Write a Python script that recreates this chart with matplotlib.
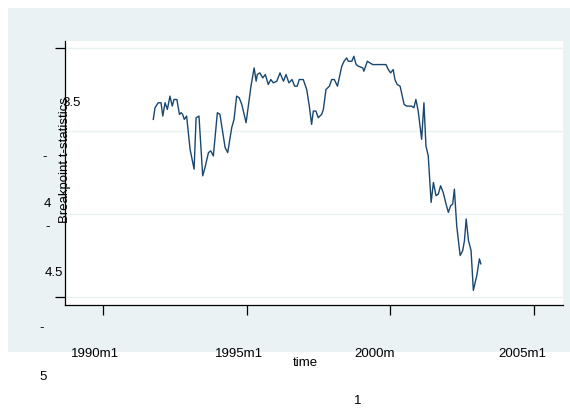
import matplotlib.pyplot as plt
from matplotlib.patches import Rectangle

plt.rcParams['font.family'] = ['Liberation Sans', 'DejaVu Sans']

# breakpoint t-statistics (time in decimal years)
time = [1991.75, 1991.81, 1991.92, 1992.02, 1992.08, 1992.16, 1992.24, 1992.33,
        1992.41, 1992.47, 1992.57, 1992.66, 1992.72, 1992.77, 1992.83, 1992.91,
        1993.03, 1993.17, 1993.24, 1993.34, 1993.47, 1993.55, 1993.67, 1993.75,
        1993.84, 1993.98, 1994.07, 1994.25, 1994.34, 1994.48, 1994.56, 1994.65,
        1994.74, 1994.83, 1994.98, 1995.15, 1995.26, 1995.33, 1995.37, 1995.46,
        1995.56, 1995.65, 1995.75, 1995.84, 1995.93, 1996.05, 1996.16, 1996.28,
        1996.37, 1996.47, 1996.58, 1996.67, 1996.76, 1996.83, 1996.97, 1997.09,
        1997.18, 1997.26, 1997.32, 1997.41, 1997.49, 1997.61, 1997.67, 1997.76,
        1997.88, 1997.96, 1998.05, 1998.16, 1998.31, 1998.39, 1998.48, 1998.54,
        1998.66, 1998.73, 1998.81, 1998.89, 1999.04, 1999.08, 1999.20, 1999.29,
        1999.39, 1999.50, 1999.62, 1999.76, 1999.85, 1999.93, 2000.01, 2000.10,
        2000.16, 2000.24, 2000.34, 2000.48, 2000.57, 2000.74, 2000.82, 2000.89,
        2000.97, 2001.09, 2001.17, 2001.24, 2001.32, 2001.42, 2001.50, 2001.59,
        2001.67, 2001.75, 2001.84, 2001.94, 2002.02, 2002.10, 2002.17, 2002.23,
        2002.31, 2002.43, 2002.52, 2002.58, 2002.64, 2002.72, 2002.81, 2002.89,
        2003.01, 2003.10, 2003.15]
tstat = [-3.43, -3.36, -3.33, -3.33, -3.41, -3.33, -3.37, -3.29,
         -3.35, -3.31, -3.31, -3.40, -3.39, -3.40, -3.43, -3.41,
         -3.61, -3.73, -3.42, -3.41, -3.77, -3.72, -3.63, -3.62,
         -3.65, -3.39, -3.40, -3.60, -3.63, -3.48, -3.43, -3.29,
         -3.30, -3.34, -3.45, -3.23, -3.12, -3.20, -3.16, -3.15,
         -3.18, -3.16, -3.22, -3.19, -3.21, -3.20, -3.15, -3.20,
         -3.16, -3.21, -3.19, -3.23, -3.23, -3.19, -3.19, -3.25,
         -3.35, -3.46, -3.38, -3.38, -3.42, -3.40, -3.37, -3.25,
         -3.23, -3.19, -3.19, -3.23, -3.11, -3.08, -3.06, -3.08,
         -3.08, -3.05, -3.10, -3.11, -3.12, -3.14, -3.08, -3.09,
         -3.10, -3.10, -3.10, -3.10, -3.10, -3.13, -3.15, -3.13,
         -3.19, -3.22, -3.23, -3.34, -3.35, -3.35, -3.36, -3.31,
         -3.38, -3.55, -3.33, -3.59, -3.65, -3.93, -3.81, -3.89,
         -3.88, -3.83, -3.87, -3.94, -3.99, -3.95, -3.94, -3.85,
         -4.07, -4.25, -4.22, -4.16, -4.03, -4.16, -4.22, -4.46,
         -4.37, -4.27, -4.30]

grid_levels = [-3, -3.5, -4, -4.5]
ytick_levels = [-3, -4.5]
xtick_years = [1990, 1995, 2000, 2005]
xtick_labels = ["1990m1", "1995m1", "2000m", "2005m1"]

W, H = 570, 408
fig = plt.figure(figsize=(W / 100, H / 100), dpi=100)
fig.patch.set_facecolor("white")

# light outer panel, kept behind the axes
fig.patches.append(Rectangle((8 / W, 1 - 352 / H), 562 / W, 344 / H,
                             transform=fig.transFigure, facecolor="#eaf2f3",
                             edgecolor="none", zorder=-10))

ax = fig.add_axes([65 / W, 1 - 305 / H, 498 / W, 264 / H])
ax.set_zorder(1)
ax.set_facecolor("white")
ax.plot(time, tstat, color="#1a476f", lw=1.0)

ax.set_xlim(1988.677, 2006.01)
ax.set_ylim(-4.548, -2.958)

for g in grid_levels:
    ax.axhline(g, color="#eaf2f3", lw=1.0, zorder=0)

ax.set_yticks(ytick_levels)
ax.set_yticklabels([])
ax.set_xticks(xtick_years)
ax.set_xticklabels([])
ax.tick_params(direction="out", length=7, width=0.9, color="black")
for s in ["top", "right"]:
    ax.spines[s].set_visible(False)
for s in ["left", "bottom"]:
    ax.spines[s].set_linewidth(0.9)

fs = 9.5


def ftext(x, y, s, **kw):
    fig.text(x / W, 1 - y / H, s, fontsize=fs, ha="center", va="center",
             zorder=5, **kw)


# stray axis labels as they appear in the reference
for (x, y), s in zip([(72, 103), (45, 157), (47, 204), (48, 227),
                      (54, 273), (42, 328), (43, 377)],
                     ["3.5", "-", "4", "-", "4.5", "-", "5"]):
    ftext(x, y, s)

ftext(65, 160, "Breakpoint t-statistics", rotation=90)

for x, s in zip([95, 239, 375, 522], xtick_labels):
    ftext(x, 354, s)
ftext(305, 363, "time")
ftext(358, 401, "1")

fig.savefig("out.png", dpi=100)
plt.close(fig)
